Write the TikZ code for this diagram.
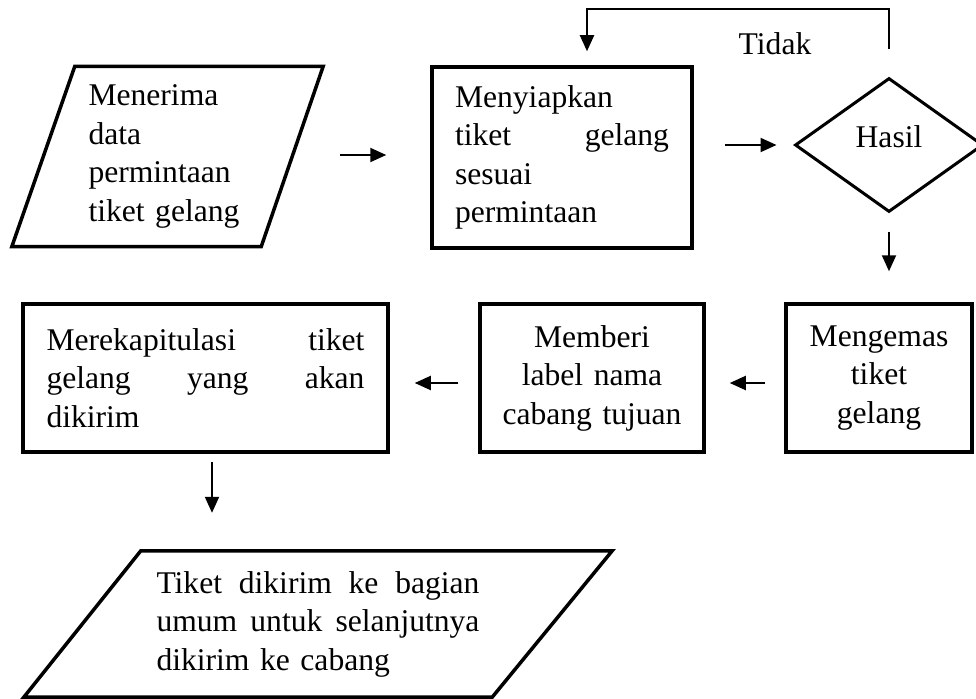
\documentclass[tikz,border=0pt]{standalone}
\usepackage{fontspec}
\setmainfont{Liberation Serif}
\usetikzlibrary{arrows.meta,shapes.geometric}
\begin{document}
\begin{tikzpicture}[x=1pt,y=-1pt,
  font=\fontsize{31.6}{38.5}\selectfont,
  procbox/.style={draw, line width=3.5pt, inner sep=0pt},
  iobox/.style={inner sep=0pt, align=left},
  ioline/.style={line width=3.5pt, line join=miter},
  arr/.style={line width=2pt, -{Triangle[length=16pt,width=14pt]}}]
\useasboundingbox (0,0) rectangle (976,698);
\clip (0,0) rectangle (976,698);

% input parallelogram
\node[iobox, minimum width=311pt, minimum height=180pt, text width=158pt] (p1) at (167.5,156.5)
  {Menerima\\ data\\ permintaan\\ tiket gelang};
\draw[ioline] ([xshift=63pt]p1.north west) -- (p1.north east) -- ([xshift=-62pt]p1.south east) -- (p1.south west) -- cycle;

% prepare box
\node[procbox, minimum width=260pt, minimum height=181pt, text width=214pt, align=left] (prep) at (562,157.5)
  {Menyiapkan\\ tiket\hfill gelang\\ sesuai\\ permintaan};

% decision
\node[diamond, draw, line width=3pt, inner sep=0pt, minimum width=188pt, minimum height=134pt] (hasil) at (889,145)
  {\raisebox{-2pt}[0pt][0pt]{Hasil}};

\node[inner sep=0pt] (tidak) at (775,44) {Tidak};

% second row
\node[procbox, minimum width=186pt, minimum height=148pt, text width=170pt, align=center] (kemas) at (879,378)
  {Mengemas\\ tiket\\ gelang};
\node[procbox, minimum width=224pt, minimum height=148pt, text width=200pt, align=center] (label) at (592,378)
  {Memberi\\ label nama\\ cabang tujuan};
\node[procbox, minimum width=365pt, minimum height=148pt, text width=318pt, align=left] (rekap) at (205.5,378)
  {Merekapitulasi\hfill tiket\\ gelang\hfill yang\hfill akan\\ dikirim};

% output parallelogram
\node[iobox, minimum width=588pt, minimum height=146pt, text width=323pt] (p2) at (318,624)
  {Tiket\hfill dikirim\hfill ke\hfill bagian\\ umum\hfill untuk\hfill selanjutnya\\ dikirim ke cabang};
\draw[ioline] ([xshift=117pt]p2.north west) -- (p2.north east) -- ([xshift=-120pt]p2.south east) -- (p2.south west) -- cycle;

% connectors
\draw[arr] ([xshift=17pt,yshift=1.5pt]p1.east) -- ([xshift=-44pt,yshift=1.5pt]p1.east -| prep.west);
\draw[arr] ([xshift=31pt,yshift=12.5pt]prep.east) -- ([xshift=-17pt]hasil.west);
\draw[arr] ([yshift=27pt]hasil.north) -- ([yshift=67pt]hasil.north) -| ([xshift=25pt,yshift=14pt]prep.north);
\draw[arr, shorten <=18pt, shorten >=31pt] (hasil.south) -- (hasil.south |- kemas.north);
\draw[arr] ([xshift=-19pt,yshift=-5pt]kemas.west) -- ([xshift=24pt,yshift=-5pt]label.east);
\draw[arr] ([xshift=-20pt,yshift=-5pt]label.west) -- ([xshift=25pt,yshift=-5pt]rekap.east);
\draw[arr, shorten <=8pt, shorten >=38pt] ([xshift=6.5pt]rekap.south) -- ([xshift=6.5pt]rekap.south |- p2.north);
\end{tikzpicture}
\end{document}
